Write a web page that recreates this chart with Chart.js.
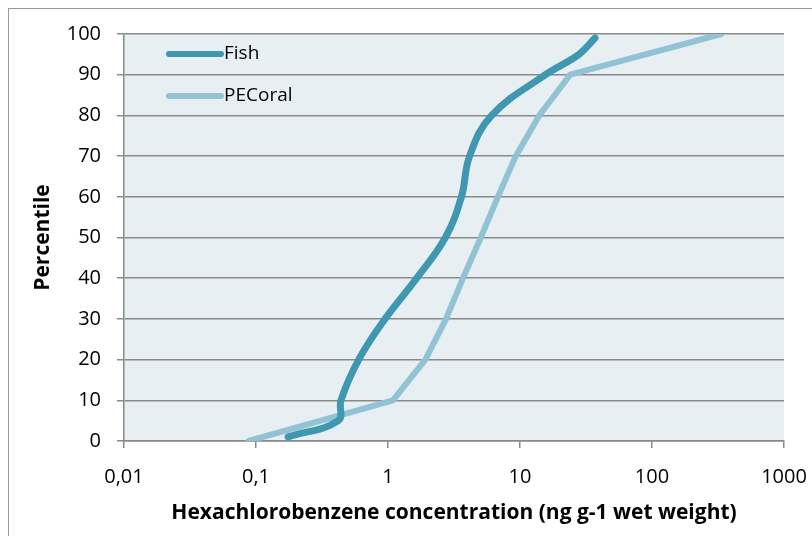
<!DOCTYPE html>
<html>
<head>
<meta charset="utf-8">
<script src="https://cdn.jsdelivr.net/npm/chart.js@4"></script>
<style>
  html, body { margin: 0; padding: 0; background: #fff; overflow: hidden; }
  #wrap { position: relative; width: 812px; height: 536px; }
  #frame { position: absolute; left: 8px; top: 8px; width: 900px; height: 900px; border: 1px solid #9a9a9a; }
  canvas { position: absolute; left: 0; top: 0; }
</style>
</head>
<body>
<div id="wrap">
  <div id="frame"></div>
  <canvas id="hcbChart" width="812" height="536"></canvas>
</div>
<script>
const fishPercentile = [1, 5, 10, 20, 30, 40, 50, 60, 70, 80, 90, 95, 99];
const fishConc = [0.175, 0.42, 0.44, 0.6, 0.95, 1.65, 2.72, 3.6, 4.15, 6.1, 15.6, 28, 37];

const coralPercentile = [0, 10, 20, 30, 40, 50, 60, 70, 80, 90, 100];
const coralConc = [0.088, 1.09, 1.92, 2.75, 3.7, 5.05, 6.8, 9.3, 14, 24, 335];

const xTicks = [0.01, 0.1, 1, 10, 100, 1000];
const xTickLabels = ['0,01', '0,1', '1', '10', '100', '1000'];

const fishColor = '#4097B0';
const coralColor = '#92C3D5';
const gridColor = '#8a8a8a';
const txtFont = '"Open Sans", "Noto Sans", sans-serif';

const toPoints = (xs, ys) => xs.map((x, i) => ({ x: x, y: ys[i] }));

// plot background
const plotBg = {
    id: 'plotBg',
    beforeDraw(chart) {
        const { ctx, chartArea: a } = chart;
        ctx.save();
        ctx.fillStyle = '#E8EFF3';
        ctx.fillRect(a.left, a.top, a.right - a.left, a.bottom - a.top);
        ctx.restore();
    }
};

// legend sits inside the plot, top left
const innerLegend = {
    id: 'innerLegend',
    afterDatasetsDraw(chart) {
        const { ctx, chartArea: a } = chart;
        ctx.save();
        chart.data.datasets.forEach((ds, i) => {
            const y = a.top + 20 + i * 42;
            const x0 = a.left + 45;
            ctx.strokeStyle = ds.borderColor;
            ctx.lineWidth = 6;
            ctx.lineCap = 'round';
            ctx.beginPath();
            ctx.moveTo(x0, y);
            ctx.lineTo(x0 + 52, y);
            ctx.stroke();
            ctx.fillStyle = '#000';
            ctx.font = '19px ' + txtFont;
            ctx.textBaseline = 'middle';
            ctx.fillText(ds.label, x0 + 55, y);
        });
        ctx.restore();
    }
};

const ctx = document.getElementById('hcbChart').getContext('2d');

new Chart(ctx, {
    type: 'scatter',
    data: {
        datasets: [{
            label: 'Fish',
            data: toPoints(fishConc, fishPercentile),
            showLine: true,
            borderColor: fishColor,
            borderWidth: 7,
            borderCapStyle: 'round',
            borderJoinStyle: 'round',
            tension: 0.4,
            pointRadius: 0
        }, {
            label: 'PECoral',
            data: toPoints(coralConc, coralPercentile),
            showLine: true,
            borderColor: coralColor,
            borderWidth: 6,
            borderCapStyle: 'round',
            tension: 0,
            pointRadius: 0
        }]
    },
    options: {
        responsive: false,
        animation: false,
        layout: { padding: { top: 34, right: 28, left: 0, bottom: 0 } },
        plugins: {
            legend: { display: false },
            tooltip: { enabled: false }
        },
        scales: {
            x: {
                type: 'logarithmic',
                min: 0.01,
                max: 1000,
                afterBuildTicks: scale => {
                    scale.ticks = xTicks.map(v => ({ value: v }));
                },
                afterFit: scale => {
                    scale.height = 95;
                    scale.paddingLeft = 0;
                    scale.paddingRight = 0;
                },
                ticks: {
                    color: '#000',
                    font: { family: txtFont, size: 20 },
                    padding: 17,
                    maxRotation: 0,
                    autoSkip: false,
                    callback: (value, index) => xTickLabels[index]
                },
                grid: {
                    drawOnChartArea: false,
                    drawTicks: true,
                    tickLength: 7,
                    color: gridColor,
                    lineWidth: 1.5
                },
                border: { display: true, color: gridColor, width: 1.5 },
                title: {
                    display: true,
                    text: 'Hexachlorobenzene concentration (ng g-1 wet weight)',
                    color: '#000',
                    font: { family: txtFont, size: 21, weight: 'bold' },
                    padding: { top: 0, bottom: 10 }
                }
            },
            y: {
                min: 0,
                max: 100,
                afterFit: scale => {
                    scale.width = 124;
                    scale.paddingTop = 0;
                    scale.paddingBottom = 0;
                },
                ticks: {
                    stepSize: 10,
                    color: '#000',
                    font: { family: txtFont, size: 20 },
                    padding: 16
                },
                grid: {
                    color: gridColor,
                    lineWidth: 1.5,
                    tickLength: 7
                },
                border: { display: true, color: gridColor, width: 1.5 },
                title: {
                    display: true,
                    text: 'Percentile',
                    color: '#000',
                    font: { family: txtFont, size: 21, weight: 'bold' },
                    padding: { top: 30, bottom: 0 }
                }
            }
        }
    },
    plugins: [plotBg, innerLegend]
});
</script>
</body>
</html>
